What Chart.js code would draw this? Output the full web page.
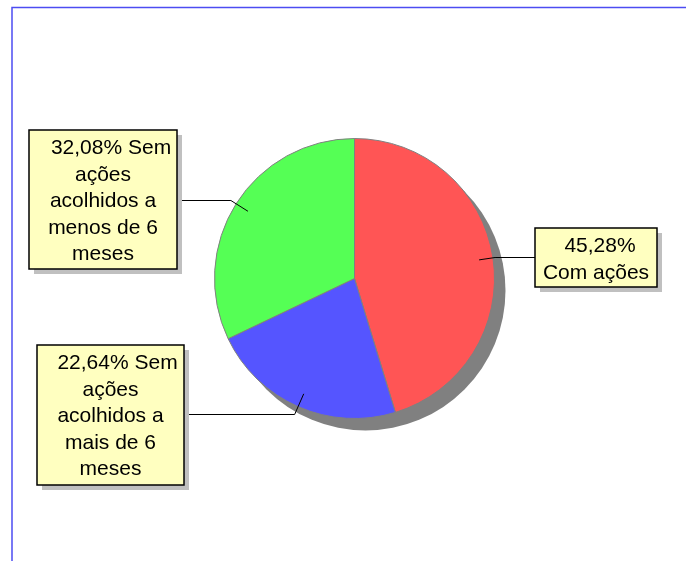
<!DOCTYPE html>
<html>
<head>
<meta charset="utf-8">
<script src="https://cdn.jsdelivr.net/npm/chart.js@4"></script>
<style>
  body { margin: 0; background: #fff; }
  #myChart { position: absolute; left: 0; top: 0; }
</style>
</head>
<body>
<canvas id="myChart" width="686" height="561"></canvas>
<script>
// data
const categories = ['Com ações', 'Sem ações acolhidos a mais de 6 meses', 'Sem ações acolhidos a menos de 6 meses'];
const percents = [45.28, 22.64, 32.08];
const sliceColors = ['#ff5555', '#5555ff', '#55ff55'];
const labelLines = [
  ['45,28%', 'Com ações'],
  ['22,64% Sem', 'ações', 'acolhidos a', 'mais de 6', 'meses'],
  ['32,08% Sem', 'ações', 'acolhidos a', 'menos de 6', 'meses']
];

// where the callout boxes sit (left, top, right, bottom) + y of leader line
const boxes = [
  { x1: 535, y1: 228, x2: 657, y2: 287, lineY: 257.5, side: 'right', firstShift: 4 },
  { x1: 37, y1: 345, x2: 184, y2: 485, lineY: 414.5, side: 'left', firstShift: 7 },
  { x1: 29, y1: 130, x2: 177, y2: 269, lineY: 200.5, side: 'left', firstShift: 8 }
];

const frame = {
  id: 'frame',
  beforeDraw(chart) {
    const ctx = chart.ctx;
    ctx.save();
    ctx.strokeStyle = '#4c4cf2';
    ctx.lineWidth = 1.5;
    ctx.beginPath();
    ctx.moveTo(12, 561);
    ctx.lineTo(12, 7.5);
    ctx.lineTo(686, 7.5);
    ctx.stroke();
    ctx.restore();
  },
  beforeDatasetsDraw(chart) {
    const arc = chart.getDatasetMeta(0).data[0];
    if (!arc) return;
    const ctx = chart.ctx;
    ctx.save();
    ctx.fillStyle = '#808080';
    ctx.beginPath();
    ctx.arc(arc.x + 11, arc.y + 12, arc.outerRadius, 0, Math.PI * 2);
    ctx.fill();
    ctx.restore();
  },
  afterDatasetsDraw(chart) {
    const ctx = chart.ctx;
    const arcs = chart.getDatasetMeta(0).data;
    ctx.save();
    arcs.forEach((arc, i) => {
      const b = boxes[i];
      const mid = (arc.startAngle + arc.endAngle) / 2;
      const ax = arc.x + Math.cos(mid) * arc.outerRadius * 0.9;
      const ay = arc.y + Math.sin(mid) * arc.outerRadius * 0.9;
      const t = (b.lineY - ay) / Math.sin(mid);
      const ex = ax + t * Math.cos(mid);
      const bx = b.side === 'left' ? b.x2 : b.x1;

      // leader line
      ctx.strokeStyle = '#000';
      ctx.lineWidth = 1;
      ctx.beginPath();
      ctx.moveTo(ax, ay);
      ctx.lineTo(ex, b.lineY);
      ctx.lineTo(bx, b.lineY);
      ctx.stroke();

      // box shadow + box
      ctx.fillStyle = '#c0c0c0';
      ctx.fillRect(b.x1 + 5, b.y1 + 5, b.x2 - b.x1, b.y2 - b.y1);
      ctx.fillStyle = '#ffffc0';
      ctx.fillRect(b.x1, b.y1, b.x2 - b.x1, b.y2 - b.y1);
      ctx.strokeStyle = '#000';
      ctx.lineWidth = 1.5;
      ctx.strokeRect(b.x1, b.y1, b.x2 - b.x1, b.y2 - b.y1);

      // text
      ctx.fillStyle = '#000';
      ctx.font = '21px "Liberation Sans", Arial, sans-serif';
      ctx.textAlign = 'center';
      ctx.textBaseline = 'middle';
      const cx = (b.x1 + b.x2) / 2;
      labelLines[i].forEach((ln, k) => {
        ctx.fillText(ln, cx + (k === 0 ? b.firstShift : 0), b.y1 + 18.5 + k * 26.5);
      });
    });
    ctx.restore();
  }
};

const ctx = document.getElementById('myChart').getContext('2d');
const myChart = new Chart(ctx, {
  type: 'pie',
  data: {
    labels: categories,
    datasets: [{
      data: percents,
      backgroundColor: sliceColors,
      borderColor: '#808080',
      borderWidth: 1
    }]
  },
  options: {
    responsive: false,
    animation: false,
    layout: { padding: { left: 214, right: 191, top: 138, bottom: 142 } },
    plugins: {
      legend: { display: false },
      tooltip: { enabled: false }
    }
  },
  plugins: [frame]
});
</script>
</body>
</html>
